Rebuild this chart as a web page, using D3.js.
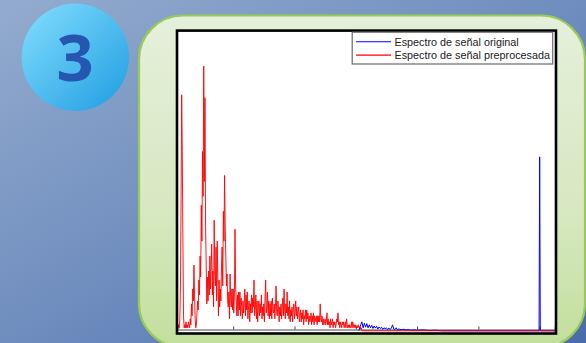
<!DOCTYPE html>
<html>
<head>
<meta charset="utf-8">
<script src="https://cdn.jsdelivr.net/npm/d3@7"></script>
<style>
  html, body { margin: 0; padding: 0; overflow: hidden; }
  svg { display: block; }
</style>
</head>
<body>
<div id="js-canvas"></div>
<script>
"use strict";

// Legend labels.
const seriesNames = ["Espectro de señal original", "Espectro de señal preprocesada"];

// Hidden x ticks (Hz), no labels in the picture.
const xTicks = [1000, 2000, 3000, 4000, 5000, 6000];

// Preprocessed spectrum, sampled every 10 Hz starting at 100 Hz.
const freqStart = 100;
const freqStep = 10;
const processedAmp = [
  0.01, 0.02, 0.01, 0.04, 0.15, 0.44, 0.79, 0.60, 0.30, 0.05,
  0.01, 0.02, 0.01, 0.03, 0.01, 0.02, 0.01, 0.03, 0.02, 0.01,
  0.04, 0.02, 0.09, 0.05, 0.14, 0.10, 0.22, 0.12, 0.04, 0.01,
  0.02, 0.06, 0.10, 0.07, 0.17, 0.12, 0.25, 0.18, 0.42, 0.30,
  0.60, 0.45, 0.886, 0.50, 0.78, 0.35, 0.22, 0.09, 0.18, 0.10,
  0.20, 0.12, 0.25, 0.14, 0.22, 0.29, 0.12, 0.20, 0.08, 0.37,
  0.20, 0.15, 0.28, 0.10, 0.30, 0.18, 0.05, 0.17, 0.08, 0.14,
  0.10, 0.22, 0.28, 0.15, 0.40, 0.30, 0.52, 0.35, 0.25, 0.15,
  0.19, 0.10, 0.08, 0.13, 0.04, 0.19, 0.10, 0.08, 0.14, 0.07,
  0.14, 0.06, 0.12, 0.34, 0.15, 0.10, 0.05, 0.12, 0.05, 0.13,
  0.07, 0.13, 0.05, 0.11, 0.08, 0.04, 0.10, 0.06, 0.09, 0.14,
  0.05, 0.12, 0.07, 0.13, 0.04, 0.08, 0.10, 0.03, 0.09, 0.06,
  0.12, 0.06, 0.11, 0.08, 0.17, 0.05, 0.07, 0.12, 0.04, 0.10,
  0.03, 0.08, 0.10, 0.05, 0.09, 0.06, 0.12, 0.04, 0.08, 0.05,
  0.09, 0.03, 0.11, 0.17, 0.06, 0.08, 0.13, 0.05, 0.10, 0.04,
  0.09, 0.05, 0.10, 0.04, 0.11, 0.07, 0.06, 0.09, 0.04, 0.08,
  0.15, 0.06, 0.05, 0.10, 0.07, 0.03, 0.08, 0.05, 0.09, 0.04,
  0.08, 0.11, 0.05, 0.14, 0.07, 0.04, 0.09, 0.06, 0.13, 0.05,
  0.08, 0.04, 0.10, 0.03, 0.07, 0.05, 0.08, 0.03, 0.07, 0.09,
  0.04, 0.06, 0.10, 0.05, 0.08, 0.04, 0.06, 0.08, 0.03, 0.05,
  0.07, 0.03, 0.06, 0.04, 0.07, 0.02, 0.05, 0.04, 0.07, 0.03,
  0.07, 0.04, 0.06, 0.02, 0.05, 0.03, 0.04, 0.06, 0.02, 0.05,
  0.03, 0.06, 0.02, 0.05, 0.04, 0.03, 0.05, 0.02, 0.05, 0.03,
  0.05, 0.03, 0.09, 0.04, 0.03, 0.05, 0.02, 0.04, 0.02, 0.03,
  0.04, 0.02, 0.03, 0.06, 0.02, 0.04, 0.02, 0.03, 0.01, 0.04,
  0.02, 0.03, 0.04, 0.01, 0.03, 0.02, 0.03, 0.01, 0.02, 0.04,
  0.03, 0.06, 0.02, 0.03, 0.01, 0.03, 0.02, 0.01, 0.03, 0.02,
  0.03, 0.01, 0.02, 0.03, 0.01, 0.04, 0.02, 0.01, 0.02, 0.01,
  0.02, 0.01, 0.01, 0.03, 0.01, 0.03, 0.02, 0.01, 0.02, 0.01,
  0.02, 0.01, 0.015, 0.01, 0.02, 0.01, 0.01, 0.015, 0.005, 0.01,
  0
];

// Original spectrum where it shows past the red trace: [Hz, amplitude].
const originalPoints = [
  [3050, 0], [3080, 0.02], [3100, 0.03], [3120, 0.01], [3140, 0.025],
  [3160, 0.012], [3180, 0.024], [3200, 0.01], [3220, 0.02], [3240, 0.01],
  [3260, 0.018], [3280, 0.008], [3300, 0.016], [3320, 0.009], [3340, 0.015],
  [3360, 0.006], [3380, 0.013], [3400, 0.008], [3420, 0.012], [3440, 0.005],
  [3460, 0.01], [3480, 0.007], [3500, 0.01], [3520, 0.004], [3540, 0.009],
  [3560, 0.005], [3580, 0.008], [3600, 0.02], [3620, 0.006], [3640, 0.004],
  [3660, 0.01], [3680, 0.003], [3700, 0.006], [3740, 0.004], [3780, 0.005],
  [3820, 0.003], [3860, 0.004], [3900, 0.002], [3950, 0.003], [4000, 0.002],
  [4100, 0.003], [4200, 0.001], [4300, 0.002], [4400, 0], [5990, 0],
  [6000, 0.582], [6010, 0], [6250, 0]
];

const width = 586;
const height = 343;

function createCanvas() {
  return d3.select("#js-canvas")
    .append("svg")
      .attr("width", width)
      .attr("height", height);
}

function addGradient(defs, id, x2, y2, stops) {
  const g = defs.append("linearGradient")
    .attr("id", id)
    .attr("x1", 0).attr("y1", 0)
    .attr("x2", x2).attr("y2", y2);
  stops.forEach(function (s) {
    g.append("stop").attr("offset", s[0]).attr("stop-color", s[1]);
  });
}

function drawBackdrop(svg) {
  const defs = svg.append("defs");
  addGradient(defs, "bg", 1, 1, [[0, "#93abce"], [0.5, "#6f8dbe"], [1, "#4a6cab"]]);
  addGradient(defs, "ball", 1, 1, [[0, "#84defe"], [1, "#1f9de1"]]);
  addGradient(defs, "panel", 0, 1, [[0, "#e5f0db"], [0.6, "#d6e8c0"], [1, "#c2df9c"]]);
  defs.append("clipPath").attr("id", "plot-clip")
    .append("rect")
      .attr("x", 178).attr("y", 32)
      .attr("width", 377).attr("height", 300);

  svg.append("rect")
    .attr("width", width).attr("height", height)
    .attr("fill", "url(#bg)");

  svg.append("circle")
    .attr("cx", 75.3).attr("cy", 57.3).attr("r", 53.7)
    .attr("fill", "url(#ball)");

  svg.append("text")
    .attr("x", 75).attr("y", 80.5)
    .attr("text-anchor", "middle")
    .attr("font-family", "'Open Sans', 'Noto Sans', sans-serif")
    .attr("font-weight", 700)
    .attr("font-size", 65)
    .attr("fill", "#2556b0")
    .text("3");

  svg.append("rect")
    .attr("x", 139).attr("y", 15.5)
    .attr("width", 446).attr("height", 332)
    .attr("rx", 44).attr("ry", 44)
    .attr("fill", "url(#panel)")
    .attr("stroke", "#98cb56")
    .attr("stroke-width", 2.2);
}

function drawChart(svg) {
  const x = d3.scaleLinear().domain([100, 6250]).range([178, 555]);
  const y = d3.scaleLinear().domain([0, 1]).range([330.8, 32]);

  svg.append("rect")
    .attr("x", 177).attr("y", 30.6)
    .attr("width", 379).attr("height", 302.9)
    .attr("fill", "#ffffff");

  const axis = svg.append("g")
    .attr("transform", "translate(0,329.5)")
    .call(d3.axisBottom(x).tickValues(xTicks).tickSize(-3).tickFormat(""));
  axis.select(".domain").attr("stroke", "#a3a3a3").attr("stroke-width", 2);
  axis.selectAll(".tick line").attr("stroke", "#444").attr("stroke-width", 1);

  const line = d3.line()
    .x(function (d) { return x(d[0]); })
    .y(function (d) { return y(d[1]); });

  const processed = processedAmp.map(function (a, i) {
    return [freqStart + i * freqStep, a];
  }).concat([[6250, 0]]);

  const plot = svg.append("g").attr("clip-path", "url(#plot-clip)");

  plot.append("path")
    .datum(originalPoints)
    .attr("d", line)
    .attr("fill", "none")
    .attr("stroke", "#0000ff")
    .attr("stroke-width", 1);

  plot.append("path")
    .datum(processed)
    .attr("d", line)
    .attr("fill", "none")
    .attr("stroke", "#ff0000")
    .attr("stroke-opacity", 0.9)
    .attr("stroke-width", 1);

  // frame
  svg.append("rect")
    .attr("x", 177).attr("y", 30.6)
    .attr("width", 379).attr("height", 302.9)
    .attr("fill", "none")
    .attr("stroke", "#000")
    .attr("stroke-width", 2.6);

  drawLegend(svg);
}

function drawLegend(svg) {
  const colors = ["#0000ff", "#ff0000"];
  const lg = svg.append("g");
  lg.append("rect")
    .attr("x", 352.2).attr("y", 32.2)
    .attr("width", 200.5).attr("height", 31.8)
    .attr("fill", "#fff")
    .attr("stroke", "#6a6a6a")
    .attr("stroke-width", 1.2);
  seriesNames.forEach(function (name, i) {
    const yy = 41.7 + i * 13.4;
    lg.append("line")
      .attr("x1", 356).attr("x2", 391)
      .attr("y1", yy).attr("y2", yy)
      .attr("stroke", colors[i])
      .attr("stroke-width", 1.1);
    lg.append("text")
      .attr("x", 394.5).attr("y", yy + 4)
      .attr("font-family", "'Liberation Sans', Arial, sans-serif")
      .attr("font-size", 10.8)
      .attr("fill", "#222")
      .text(name);
  });
}

const svg = createCanvas();
drawBackdrop(svg);
drawChart(svg);
</script>
</body>
</html>
